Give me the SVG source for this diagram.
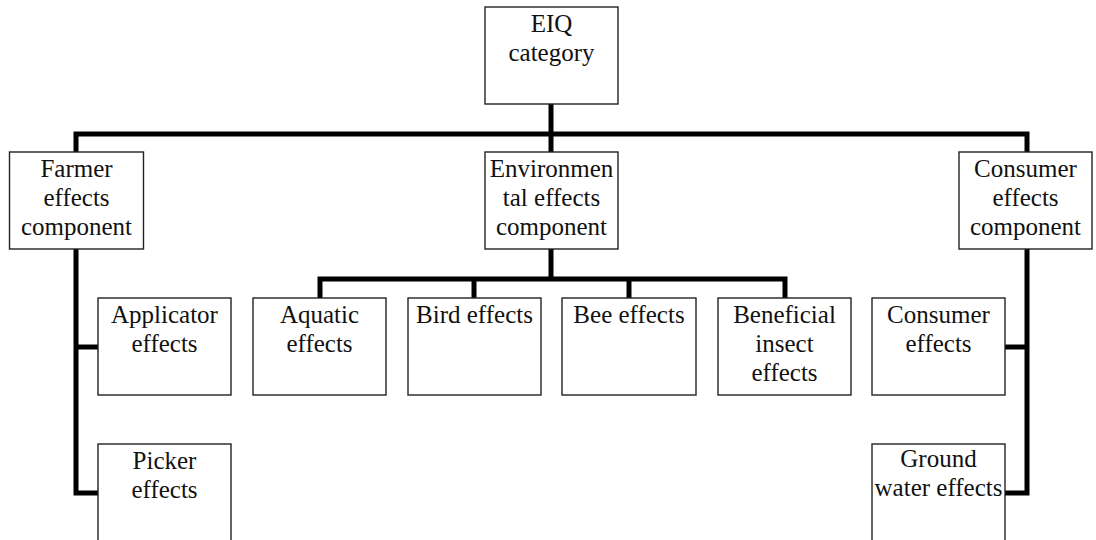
<svg xmlns="http://www.w3.org/2000/svg" width="1096" height="540" viewBox="0 0 1096 540">
<style>
.box{fill:#fff;stroke:#222;stroke-width:1.4}
.t{font-family:"Liberation Serif","Times New Roman",serif;font-size:25px;fill:#111;text-anchor:middle}
.c{fill:none;stroke:#000;stroke-width:5;stroke-linejoin:miter;stroke-linecap:butt}
</style>
<rect width="1096" height="540" fill="#fff"/>
<g id="connectors">
<path class="c" d="M551,104 V152"/>
<path class="c" d="M76,152 V134 H1027 V152"/>
<path class="c" d="M76,249 V493 H98"/>
<path class="c" d="M76,347 H98"/>
<path class="c" d="M1027,249 V493 H1005"/>
<path class="c" d="M1027,347 H1005"/>
<path class="c" d="M551,249 V279"/>
<path class="c" d="M320,298 V279 H785 V298"/>
<path class="c" d="M474,279 V298"/>
<path class="c" d="M629,279 V298"/>
</g>
<g id="eiq">
<rect class="box" x="485" y="7" width="133" height="97"/>
<text class="t" x="551.5" y="32">EIQ</text>
<text class="t" x="551.5" y="61">category</text>
</g>
<g id="farmer">
<rect class="box" x="9.5" y="152" width="134" height="97"/>
<text class="t" x="76.5" y="177">Farmer</text>
<text class="t" x="76.5" y="206">effects</text>
<text class="t" x="76.5" y="235">component</text>
</g>
<g id="environmental">
<rect class="box" x="485" y="152" width="133" height="97"/>
<text class="t" x="551.5" y="177">Environmen</text>
<text class="t" x="551.5" y="206">tal effects</text>
<text class="t" x="551.5" y="235">component</text>
</g>
<g id="consumer-component">
<rect class="box" x="959" y="152" width="133" height="97"/>
<text class="t" x="1025.5" y="177">Consumer</text>
<text class="t" x="1025.5" y="206">effects</text>
<text class="t" x="1025.5" y="235">component</text>
</g>
<g id="applicator">
<rect class="box" x="98" y="298" width="133" height="97"/>
<text class="t" x="164.5" y="323">Applicator</text>
<text class="t" x="164.5" y="352">effects</text>
</g>
<g id="picker">
<rect class="box" x="98" y="444" width="133" height="100"/>
<text class="t" x="164.5" y="469">Picker</text>
<text class="t" x="164.5" y="498">effects</text>
</g>
<g id="aquatic">
<rect class="box" x="253" y="298" width="133" height="97"/>
<text class="t" x="319.5" y="323">Aquatic</text>
<text class="t" x="319.5" y="352">effects</text>
</g>
<g id="bird">
<rect class="box" x="408" y="298" width="133" height="97"/>
<text class="t" x="474.5" y="323">Bird effects</text>
</g>
<g id="bee">
<rect class="box" x="562" y="298" width="134" height="97"/>
<text class="t" x="629" y="323">Bee effects</text>
</g>
<g id="beneficial">
<rect class="box" x="718" y="298" width="133" height="97"/>
<text class="t" x="784.5" y="323">Beneficial</text>
<text class="t" x="784.5" y="352">insect</text>
<text class="t" x="784.5" y="381">effects</text>
</g>
<g id="consumer-effects">
<rect class="box" x="872" y="298" width="133" height="97"/>
<text class="t" x="938.5" y="323">Consumer</text>
<text class="t" x="938.5" y="352">effects</text>
</g>
<g id="groundwater">
<rect class="box" x="872" y="444" width="133" height="100"/>
<text class="t" x="938.5" y="467">Ground</text>
<text class="t" x="938.5" y="496">water effects</text>
</g>
</svg>
